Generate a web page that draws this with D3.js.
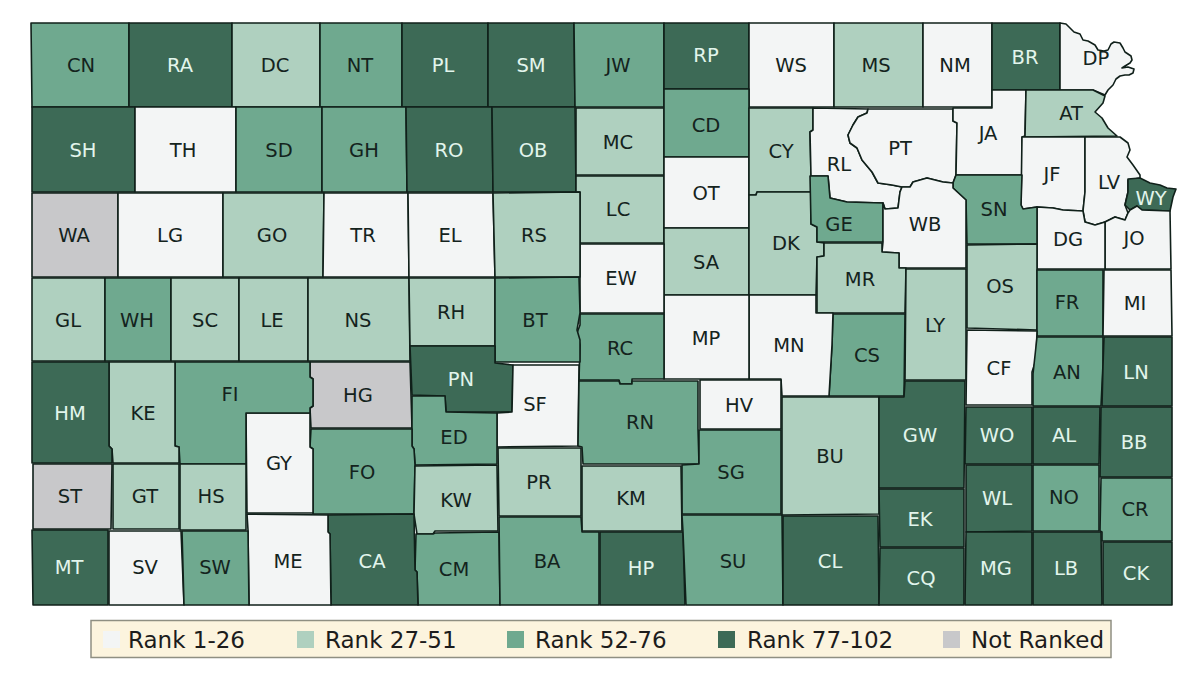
<!DOCTYPE html>
<html>
<head>
    <meta charset="utf-8">
    <script src="https://d3js.org/d3.v7.min.js"></script>
    <style>
        html, body { margin: 0; padding: 0; background: #fff; }
        svg { display: block; }
        text { font-family: "DejaVu Sans", Verdana, sans-serif; }
    </style>
</head>
<body>
<svg width="1200" height="674"></svg>
<script>
const legendLabels = ["Rank 1-26", "Rank 27-51", "Rank 52-76", "Rank 77-102", "Not Ranked"];

// county codes per legend group
const rank1 = ["TH","LG","TR","EL","EW","OT","MP","MN","HV","SF","GY","ME","SV","RL","PT","JA","JF","LV","DG","JO","MI","WB","CF","WS","NM","DP"];
const rank2 = ["DC","GO","GL","SC","LE","NS","RH","RS","MC","LC","SA","CY","DK","MS","AT","MR","LY","OS","BU","KE","GT","HS","KW","PR","KM"];
const rank3 = ["CN","NT","SD","GH","JW","CD","GE","SN","FR","AN","CS","WH","BT","RC","FI","FO","ED","RN","SG","CM","BA","SU","SW","NO","CR"];
const rank4 = ["RA","PL","SM","RP","BR","SH","RO","OB","WY","PN","HM","MT","CA","HP","CL","GW","EK","CQ","WO","AL","BB","LN","WL","MG","LB","CK"];
const notRanked = ["WA","HG","ST"];

// county boundaries, traced in map units
const boundaries = {
    CN: [[31,23],[129,23],[129,107],[32,107]],
    RA: [[129,23],[232,23],[232,107],[129,107]],
    DC: [[232,23],[320,23],[320,107],[232,107]],
    NT: [[320,23],[402,23],[402,107],[320,107]],
    PL: [[402,23],[488,23],[488,107],[402,107]],
    SM: [[488,23],[574,23],[575,107],[488,107]],
    JW: [[574,23],[664,23],[664,107],[575,107]],
    RP: [[664,23],[749,23],[749,89],[664,89]],
    WS: [[749,23],[834,23],[834,107],[749,107]],
    MS: [[834,23],[923,23],[923,107],[834,107]],
    NM: [[923,23],[992,23],[992,107],[923,107]],
    BR: [[992,23],[1060,23],[1060,90],[992,90]],
    DP: [[1060,23],[1066,24],[1070,28],[1074,32],[1080,34],[1083,40],[1088,41],[1095,45],[1098,50],[1104,51],[1108,50],[1111,44],[1114,42],[1120,43],[1123,48],[1125,52],[1131,56],[1132,60],[1130,63],[1125,66],[1122,68],[1128,67],[1134,69],[1133,73],[1129,75],[1125,75],[1120,76],[1116,79],[1113,85],[1108,90],[1105,95],[1093,90],[1060,90]],
    SH: [[32,107],[135,107],[135,192],[32,192]],
    TH: [[135,107],[236,107],[236,192],[135,192]],
    SD: [[236,107],[322,107],[322,192],[236,192]],
    GH: [[322,107],[406,107],[407,192],[322,192]],
    RO: [[406,107],[492,107],[493,192],[407,192]],
    OB: [[492,107],[575,107],[576,192],[493,192]],
    MC: [[576,108],[664,108],[664,175],[576,175]],
    LC: [[576,176],[664,176],[664,243],[580,243],[580,192],[576,192]],
    CD: [[664,89],[749,89],[749,157],[664,157]],
    OT: [[664,157],[749,157],[749,228],[664,228]],
    SA: [[664,228],[749,228],[749,295],[664,295]],
    CY: [[749,108],[813,108],[813,130],[810,132],[811,176],[811,192],[757,192],[756,195],[749,195]],
    DK: [[749,195],[756,195],[757,192],[811,192],[811,224],[817,227],[817,242],[824,243],[824,256],[817,257],[816,295],[749,295]],
    RL: [[813,108],[868,109],[867,113],[858,117],[853,125],[848,135],[850,143],[857,148],[862,160],[872,172],[878,183],[892,185],[902,187],[900,192],[898,208],[885,209],[883,203],[847,202],[830,198],[828,176],[811,176],[810,132],[813,130]],
    PT: [[868,109],[953,109],[953,121],[957,123],[956,175],[953,183],[943,182],[927,178],[913,182],[910,187],[902,187],[892,185],[878,183],[872,172],[862,160],[857,148],[850,143],[848,135],[853,125],[858,117],[867,113]],
    JA: [[953,108],[992,108],[992,90],[1026,90],[1025,136],[1022,137],[1022,175],[956,175],[957,123],[953,121]],
    AT: [[1026,90],[1093,90],[1105,96],[1103,103],[1095,112],[1102,118],[1108,128],[1117,136],[1025,137]],
    JF: [[1022,137],[1085,137],[1085,192],[1083,211],[1063,210],[1053,208],[1037,207],[1030,208],[1023,209],[1021,205]],
    LV: [[1085,137],[1120,137],[1128,143],[1130,150],[1127,157],[1133,165],[1140,175],[1140,178],[1128,180],[1128,192],[1125,205],[1128,213],[1125,220],[1115,217],[1105,222],[1095,225],[1085,222],[1083,211],[1085,192]],
    WY: [[1128,179],[1140,178],[1150,183],[1160,185],[1167,188],[1176,189],[1173,197],[1170,211],[1142,210],[1137,206],[1130,210],[1125,205],[1128,192]],
    JO: [[1105,222],[1115,217],[1125,220],[1128,213],[1130,210],[1137,206],[1142,210],[1170,211],[1171,269],[1105,269]],
    DG: [[1037,207],[1053,208],[1063,210],[1083,211],[1085,222],[1095,225],[1105,222],[1105,269],[1037,269]],
    SN: [[956,175],[1022,175],[1021,205],[1023,209],[1030,208],[1037,207],[1037,244],[967,244],[966,200],[953,188],[953,183]],
    GE: [[810,176],[828,176],[830,198],[847,202],[883,203],[883,242],[817,242],[817,227],[811,224]],
    WB: [[902,187],[910,187],[913,182],[927,178],[943,182],[953,183],[953,188],[966,200],[966,268],[899,268],[899,253],[882,252],[883,242],[883,203],[885,209],[898,208],[900,192]],
    MR: [[824,243],[882,243],[882,252],[899,253],[899,268],[906,268],[905,313],[817,313],[817,257],[824,256]],
    OS: [[967,245],[1037,244],[1037,330],[967,328]],
    FR: [[1037,270],[1103,270],[1103,336],[1037,336]],
    MI: [[1104,270],[1171,270],[1172,336],[1103,336]],
    LY: [[906,269],[966,269],[966,380],[905,380]],
    CS: [[833,314],[905,314],[904,396],[829,396],[832,345]],
    MN: [[749,295],[816,295],[816,313],[833,313],[832,345],[829,396],[782,396],[781,379],[749,379]],
    MP: [[664,295],[749,295],[749,379],[664,379]],
    EW: [[580,244],[664,244],[664,313],[580,313]],
    RC: [[580,314],[664,314],[664,379],[632,379],[632,384],[620,384],[619,380],[579,380],[580,345],[577,333],[580,325]],
    WA: [[32,193],[118,193],[118,277],[32,277]],
    LG: [[118,193],[223,193],[223,277],[118,277]],
    GO: [[223,193],[324,193],[323,277],[223,277]],
    TR: [[324,193],[408,193],[409,277],[323,277]],
    EL: [[408,193],[493,193],[495,277],[409,277]],
    RS: [[493,193],[580,192],[580,277],[495,277]],
    GL: [[32,278],[105,278],[105,361],[32,361]],
    WH: [[105,278],[171,278],[171,361],[105,361]],
    SC: [[171,278],[239,278],[239,361],[171,361]],
    LE: [[239,278],[308,278],[308,361],[239,361]],
    NS: [[308,278],[409,278],[410,361],[308,361]],
    RH: [[409,278],[495,278],[495,346],[410,346]],
    BT: [[495,278],[579,277],[580,313],[577,330],[580,340],[580,362],[495,362]],
    PN: [[410,346],[495,346],[495,363],[513,365],[512,412],[446,412],[445,396],[412,395]],
    SF: [[513,365],[579,365],[578,446],[497,447],[497,413],[512,412]],
    HG: [[310,362],[410,362],[412,428],[311,428],[310,408],[313,406],[313,379],[310,377]],
    ED: [[412,396],[445,396],[446,412],[497,413],[497,464],[415,465],[414,449],[412,446]],
    FO: [[311,429],[412,429],[412,446],[414,449],[415,465],[414,514],[313,514],[313,449],[310,447]],
    KW: [[415,466],[497,465],[498,531],[435,531],[433,534],[417,534],[414,514]],
    CM: [[416,534],[433,534],[435,533],[499,532],[500,605],[418,605],[417,572],[415,570]],
    CA: [[328,515],[414,514],[415,570],[417,572],[418,605],[331,605],[330,534],[328,532]],
    ME: [[247,514],[328,515],[328,532],[330,534],[331,605],[249,605],[248,530]],
    GY: [[246,413],[310,413],[310,447],[313,449],[313,513],[247,513]],
    FI: [[175,362],[310,362],[310,377],[313,379],[313,406],[310,408],[310,413],[246,413],[246,464],[180,464],[179,447],[175,446]],
    KE: [[109,362],[175,362],[175,446],[179,447],[179,463],[113,463],[112,449],[109,446]],
    HM: [[32,362],[109,362],[109,446],[112,449],[112,463],[32,463]],
    ST: [[33,464],[112,464],[111,529],[33,529]],
    GT: [[113,464],[179,464],[179,529],[113,529]],
    HS: [[180,464],[246,464],[246,530],[180,530]],
    MT: [[32,530],[108,530],[108,605],[33,605]],
    SV: [[109,531],[181,531],[184,605],[109,605]],
    SW: [[182,531],[248,531],[249,605],[184,605]],
    RN: [[579,381],[619,381],[620,384],[632,384],[632,381],[698,381],[698,429],[699,464],[583,464],[582,447],[578,446]],
    HV: [[700,380],[781,380],[781,429],[700,429]],
    SG: [[699,430],[781,430],[781,514],[682,514],[682,465],[699,464]],
    PR: [[498,448],[581,448],[581,516],[499,516]],
    KM: [[582,466],[681,466],[682,531],[582,531]],
    BA: [[499,517],[581,517],[582,532],[599,532],[599,605],[500,605]],
    HP: [[600,532],[683,532],[685,605],[600,605]],
    SU: [[682,515],[782,515],[783,605],[686,605],[683,532]],
    CL: [[783,516],[878,516],[879,605],[783,605]],
    BU: [[782,397],[879,397],[879,514],[782,515]],
    GW: [[905,381],[965,381],[964,488],[879,488],[879,397],[904,397]],
    EK: [[879,489],[964,489],[964,547],[880,547]],
    CQ: [[880,548],[964,548],[964,605],[879,605]],
    CF: [[967,330],[1037,331],[1036,360],[1032,372],[1032,405],[966,405]],
    AN: [[1037,337],[1103,337],[1103,364],[1101,406],[1033,406],[1033,374]],
    LN: [[1104,337],[1172,337],[1172,406],[1102,406],[1103,366]],
    WO: [[966,407],[1032,407],[1032,464],[965,464]],
    AL: [[1033,407],[1100,407],[1099,464],[1033,464]],
    BB: [[1101,407],[1172,407],[1172,477],[1100,477]],
    WL: [[966,465],[1032,465],[1032,531],[966,532]],
    NO: [[1033,465],[1099,465],[1099,531],[1033,531]],
    CR: [[1101,478],[1172,478],[1172,541],[1102,541],[1102,532],[1100,531]],
    MG: [[966,532],[1032,532],[1032,605],[965,605]],
    LB: [[1033,532],[1101,532],[1102,605],[1033,605]],
    CK: [[1103,542],[1172,542],[1172,605],[1103,605]]
};

const labelSpots = {
    CN:[81,65],RA:[180,65],DC:[275,65],NT:[360,65],PL:[443,65],SM:[531,65],JW:[618,65],RP:[706,55],WS:[791,65],MS:[876,65],NM:[955,65],BR:[1025,57],DP:[1096,58],
    SH:[83,150],TH:[183,150],SD:[279,150],GH:[364,150],RO:[449,150],OB:[533,150],MC:[618,142],CD:[706,125],CY:[781,151],AT:[1071,113],JA:[988,133],PT:[900,148],RL:[839,164],
    WA:[74,235],LG:[170,235],GO:[272,235],TR:[363,235],EL:[450,235],RS:[534,235],LC:[618,209],OT:[706,193],DK:[786,243],GE:[839,224],WB:[925,224],SN:[994,209],JF:[1052,174],LV:[1109,182],WY:[1151,198],DG:[1068,239],JO:[1134,238],
    GL:[68,320],WH:[137,320],SC:[205,320],LE:[272,320],NS:[358,320],RH:[451,312],BT:[535,320],EW:[621,278],SA:[706,262],MR:[860,279],LY:[935,325],OS:[1000,286],FR:[1067,302],MI:[1135,303],
    RC:[620,348],MP:[706,338],MN:[789,345],CS:[867,355],CF:[999,368],AN:[1067,372],LN:[1136,372],
    HM:[70,413],KE:[143,413],FI:[230,394],HG:[358,395],PN:[461,379],SF:[535,404],ED:[454,437],RN:[640,422],HV:[739,405],BU:[830,456],GW:[920,435],WO:[997,435],AL:[1064,435],BB:[1134,442],
    ST:[70,496],GT:[145,496],HS:[211,496],GY:[279,463],FO:[362,472],KW:[456,500],PR:[539,482],KM:[631,498],SG:[731,472],WL:[997,498],NO:[1064,497],CR:[1135,509],EK:[920,519],
    MT:[69,567],SV:[145,567],SW:[215,567],ME:[288,561],CA:[372,561],CM:[454,569],BA:[547,561],HP:[641,568],SU:[733,561],CL:[830,561],CQ:[921,578],MG:[996,568],LB:[1066,568],CK:[1136,573]
};

const groups = [rank1, rank2, rank3, rank4, notRanked];
const colors = ["#f3f5f5", "#afd0bf", "#6fa98f", "#3d6a56", "#c8c8ca"];

const groupOf = {};
groups.forEach((g, i) => g.forEach(c => { groupOf[c] = i; }));

const color = d3.scaleOrdinal().domain(d3.range(5)).range(colors);

const svg = d3.select("svg");

const features = Object.keys(boundaries).map(code => {
    const ring = boundaries[code].concat([boundaries[code][0]]);
    return { type: "Feature", id: code, geometry: { type: "Polygon", coordinates: [ring] } };
});

const projection = d3.geoIdentity();
const path = d3.geoPath(projection);

svg.append("g")
   .selectAll("path")
   .data(features)
   .enter().append("path")
   .attr("d", path)
   .attr("fill", d => color(groupOf[d.id]))
   .attr("stroke", "#10201a")
   .attr("stroke-width", 1.6)
   .attr("stroke-linejoin", "round");

svg.append("g")
   .selectAll("text")
   .data(features)
   .enter().append("text")
   .attr("transform", d => `translate(${projection(labelSpots[d.id])})`)
   .attr("text-anchor", "middle")
   .attr("dy", "0.36em")
   .attr("font-size", 19.5)
   .attr("fill", d => groupOf[d.id] === 3 ? "#e2f5ec" : "#14231d")
   .text(d => d.id);

// legend
svg.append("rect")
   .attr("x", 91)
   .attr("y", 620.5)
   .attr("width", 1020)
   .attr("height", 37)
   .attr("fill", "#fcf4de")
   .attr("stroke", "#8f8f82")
   .attr("stroke-width", 1.5);

const swatchStart = [103, 297, 507, 718, 943];
const legendTextStart = [128, 325, 535, 747, 971];

const legend = svg.append("g")
   .selectAll("g")
   .data(legendLabels)
   .enter().append("g");

legend.append("rect")
   .attr("x", (d, i) => swatchStart[i])
   .attr("y", 631)
   .attr("width", 17)
   .attr("height", 17)
   .attr("fill", (d, i) => color(i));

legend.append("text")
   .attr("x", (d, i) => legendTextStart[i])
   .attr("y", 648)
   .attr("font-size", 23)
   .attr("fill", "#1c1c1c")
   .text(d => d);
</script>
</body>
</html>
